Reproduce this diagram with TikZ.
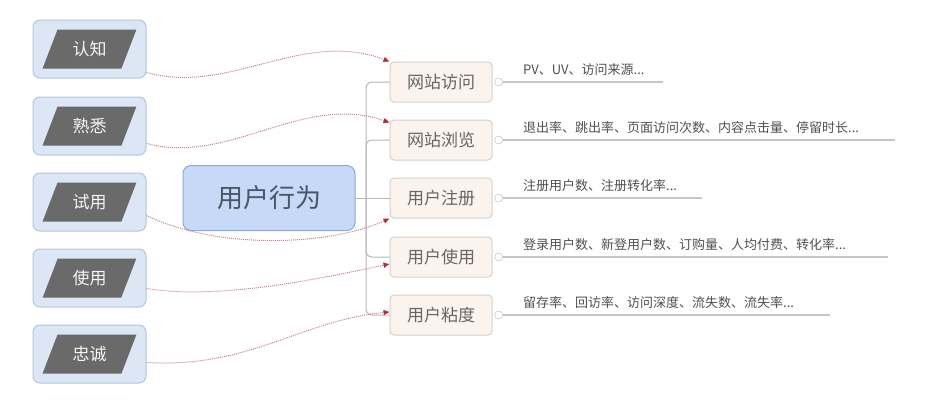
\documentclass[tikz,border=0pt]{standalone}
\usepackage{fontspec}
\setmainfont{Noto Sans CJK SC}
\usetikzlibrary{shapes.geometric,arrows.meta,positioning}

\definecolor{stagefill}{HTML}{DCE6F4}
\definecolor{stageline}{HTML}{B4C6DE}
\definecolor{taggray}{HTML}{6A6A6A}
\definecolor{corefill}{HTML}{C6D9F6}
\definecolor{coreline}{HTML}{90AAD6}
\definecolor{coretext}{HTML}{4A5568}
\definecolor{metfill}{HTML}{FAF3EE}
\definecolor{metline}{HTML}{D9CFC8}
\definecolor{mettext}{HTML}{666666}
\definecolor{treegray}{HTML}{B8B8B8}
\definecolor{linkred}{HTML}{C98585}
\definecolor{tipred}{HTML}{B0303A}
\definecolor{notetext}{HTML}{505050}

\begin{document}
\begin{tikzpicture}[x=1pt,y=-1pt]
\tikzstyle{every node}=[font=\fontsize{13}{15}\selectfont]
\tikzstyle{stagebox}=[draw=stageline,fill=stagefill,line width=1pt,rounded corners=7pt,minimum width=113pt,minimum height=58pt]
\tikzstyle{stagetag}=[trapezium,trapezium left angle=63,trapezium right angle=117,trapezium stretches=true,fill=taggray,text=white!92!gray,minimum width=94pt,minimum height=39pt,inner sep=0pt,font=\fontsize{17}{20}\selectfont]
\tikzstyle{metric}=[draw=metline,fill=metfill,line width=1pt,rounded corners=4pt,minimum width=102pt,minimum height=40pt,text=mettext,font=\fontsize{17}{20}\selectfont]
\tikzstyle{branch}=[draw=treegray,line width=1pt]
\tikzstyle{knob}=[circle,draw=treegray,fill=white,minimum size=8pt,inner sep=0pt]
\tikzstyle{note}=[anchor=west,text=notetext,inner sep=0pt]
\tikzstyle{link}=[draw=linkred,densely dotted,line width=1pt,-{Triangle[length=6pt,width=5pt,color=tipred]}]

\useasboundingbox[fill=white] (0,0) rectangle (930,402);

% stages on the left
\foreach \n/\y/\t in {1/49/认知,2/126/熟悉,3/202/试用,4/278/使用,5/354/忠诚}{
  \node[stagebox] (s\n) at (89.5,\y) {};
  \node[stagetag] (p\n) at (s\n) {\t};
}

% core node
\node[draw=coreline,fill=corefill,line width=1pt,rounded corners=8pt,minimum width=172pt,minimum height=65pt,text=coretext,font=\fontsize{26}{30}\selectfont] (core) at (269,198) {用户行为};

% metric nodes
\node[metric] (m1) at (441,82) {网站访问};
\node[metric] (m2) at (441,140) {网站浏览};
\node[metric] (m3) at (441,198) {用户注册};
\node[metric] (m4) at (441,257) {用户使用};
\node[metric] (m5) at (441,315) {用户粘度};

% tree
\coordinate (j) at (366,198);
\draw[branch] (core.east) -- (m3.west);
\foreach \n in {1,2,4,5}
  \draw[branch,rounded corners=6pt] (j) |- (m\n.west);

% notes on the right
\foreach \n/\e/\t in {1/663/{PV、UV、访问来源...},
                      2/895/{退出率、跳出率、页面访问次数、内容点击量、停留时长...},
                      3/702/{注册用户数、注册转化率...},
                      4/888/{登录用户数、新登用户数、订购量、人均付费、转化率...},
                      5/830/{留存率、回访率、访问深度、流失数、流失率...}}{
  \node[knob,right=2pt of m\n] (k\n) {};
  \coordinate (e\n) at (\e,0 |- m\n);
  \draw[draw=treegray!80,line width=1.5pt] (k\n.east) -- (e\n);
  \node[note] (t\n) at ([yshift=12pt]k\n.center -| 523,0) {\t};
}

% dotted links
\draw[link] ([yshift=6pt]s1.south east) .. controls +(83,23) and +(-87,-33) .. (m1.north west);
\draw[link] ([yshift=12pt]s2.south east) .. controls +(83,22) and +(-87,-30) .. ([yshift=-3pt]m2.north west);
\draw[link] ([yshift=16pt]s3.south east) .. controls +(73,35) and +(-60,27) .. (m3.south west);
\draw[link] ([yshift=19pt]s4.south east) .. controls +(73,12) and +(-67,14) .. ([yshift=-7pt]m4.west);
\draw[link] ([yshift=21pt]s5.south east) .. controls +(103,6) and +(-87,8) .. ([yshift=3pt]m5.west);
\end{tikzpicture}
\end{document}
